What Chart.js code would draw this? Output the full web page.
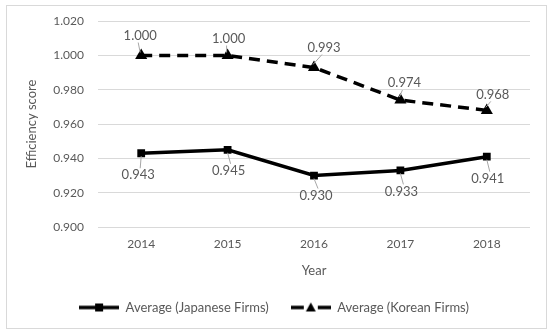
<!DOCTYPE html>
<html>
<head>
<meta charset="utf-8">
<script src="https://cdn.jsdelivr.net/npm/chart.js@4.4.0/dist/chart.umd.min.js"></script>
<style>
  html, body { margin: 0; padding: 0; background: #fff; }
  #wrap { position: relative; width: 550px; height: 335px; }
  #frame { position: absolute; left: 6px; top: 5px; width: 539px; height: 322px; border: 1px solid #d9d9d9; }
  canvas { position: absolute; left: 0; top: 0; }
</style>
</head>
<body>
<div id="wrap">
  <div id="frame"></div>
  <canvas id="myChart" width="550" height="335"></canvas>
</div>
<script>
// data
var years = ['2014', '2015', '2016', '2017', '2018'];
var japanese = [0.943, 0.945, 0.930, 0.933, 0.941];
var korean = [1.000, 1.000, 0.993, 0.974, 0.968];
var seriesNames = ['Average (Japanese Firms)', 'Average (Korean Firms)'];

// where each value label sits relative to its point (px)
var labelShift = [
  [[-3, 22], [1, 21], [2, 20], [1, 21], [1, 22]],
  [[-1, -20], [1, -17], [10, -20], [4, -17], [6, -16]]
];

var grey = '#595959';
var fontName = 'Lato, "Open Sans", sans-serif';

function legendIcon(dashed, marker) {
  var c = document.createElement('canvas');
  c.width = 40; c.height = 12;
  var g = c.getContext('2d');
  g.strokeStyle = '#000';
  g.fillStyle = '#000';
  g.lineWidth = 3.5;
  if (dashed) {
    g.beginPath(); g.moveTo(0, 6); g.lineTo(13, 6); g.stroke();
    g.beginPath(); g.moveTo(27, 6); g.lineTo(40, 6); g.stroke();
  } else {
    g.beginPath(); g.moveTo(0, 6); g.lineTo(40, 6); g.stroke();
  }
  if (marker == 'rect') {
    g.fillRect(16, 2, 8, 8);
  } else {
    g.beginPath(); g.moveTo(20, 1); g.lineTo(25, 10); g.lineTo(15, 10); g.closePath(); g.fill();
  }
  return c;
}

var valueLabels = {
  id: 'valueLabels',
  afterDatasetsDraw: function(chart) {
    var ctx = chart.ctx;
    ctx.save();
    ctx.font = '13px ' + fontName;
    ctx.textAlign = 'center';
    ctx.textBaseline = 'middle';
    chart.data.datasets.forEach(function(ds, di) {
      var meta = chart.getDatasetMeta(di);
      meta.data.forEach(function(pt, i) {
        var s = labelShift[di][i];
        var lx = pt.x + s[0], ly = pt.y + s[1];
        // leader line
        ctx.strokeStyle = '#a6a6a6';
        ctx.lineWidth = 1;
        ctx.beginPath();
        if (s[1] < 0) {
          ctx.moveTo(lx - 2, ly + 7);
          ctx.lineTo(pt.x - 1, pt.y - 3);
        } else {
          ctx.moveTo(lx + 2, ly - 7);
          ctx.lineTo(pt.x, pt.y + 3);
        }
        ctx.stroke();
        ctx.fillStyle = grey;
        ctx.fillText(ds.data[i].toFixed(3), lx, ly);
      });
    });
    ctx.restore();
  }
};

var ctx1 = document.getElementById('myChart').getContext('2d');
var graph = new Chart(ctx1, {
  type: 'line',
  data: {
    labels: years,
    datasets: [{
      label: seriesNames[0],
      data: japanese,
      borderColor: '#000',
      backgroundColor: '#000',
      borderWidth: 3.5,
      pointStyle: 'rect',
      pointRadius: 5.5,
      pointBorderWidth: 0,
      tension: 0
    }, {
      label: seriesNames[1],
      data: korean,
      borderColor: '#000',
      backgroundColor: '#000',
      borderWidth: 3.5,
      borderDash: [11, 7],
      pointStyle: 'triangle',
      pointRadius: 7,
      pointBorderWidth: 0,
      tension: 0
    }]
  },
  options: {
    responsive: false,
    animation: false,
    layout: { padding: { left: 18, right: 20, top: 21, bottom: 11 } },
    scales: {
      y: {
        min: 0.9,
        max: 1.02,
        ticks: {
          stepSize: 0.02,
          color: grey,
          padding: 14,
          font: { family: fontName, size: 12 },
          callback: function(v) { return v.toFixed(3); }
        },
        grid: { color: '#d9d9d9', lineWidth: 1, drawTicks: false },
        border: { display: false },
        title: {
          display: true,
          text: 'Efficiency score',
          color: grey,
          font: { family: fontName, size: 13 },
          padding: { top: 6, bottom: 0 }
        },
        afterFit: function(scale) { scale.width = 80; }
      },
      x: {
        offset: true,
        ticks: {
          color: grey,
          padding: 10,
          font: { family: fontName, size: 12 }
        },
        grid: { display: false, drawTicks: false, offset: true },
        border: { display: false },
        title: {
          display: true,
          text: 'Year',
          color: grey,
          font: { family: fontName, size: 13 },
          padding: { top: 2, bottom: 0 }
        }
      }
    },
    plugins: {
      legend: {
        position: 'bottom',
        labels: {
          color: grey,
          font: { family: fontName, size: 13 },
          usePointStyle: true,
          pointStyleWidth: 40,
          boxHeight: 12,
          padding: 22,
          generateLabels: function(chart) {
            return chart.data.datasets.map(function(ds, i) {
              return {
                text: ds.label,
                fontColor: grey,
                pointStyle: legendIcon(i == 1, i == 0 ? 'rect' : 'triangle'),
                lineWidth: 0,
                strokeStyle: 'rgba(0,0,0,0)',
                fillStyle: 'rgba(0,0,0,0)',
                datasetIndex: i
              };
            });
          }
        }
      },
      tooltip: { enabled: false }
    }
  },
  plugins: [valueLabels]
});
</script>
</body>
</html>
